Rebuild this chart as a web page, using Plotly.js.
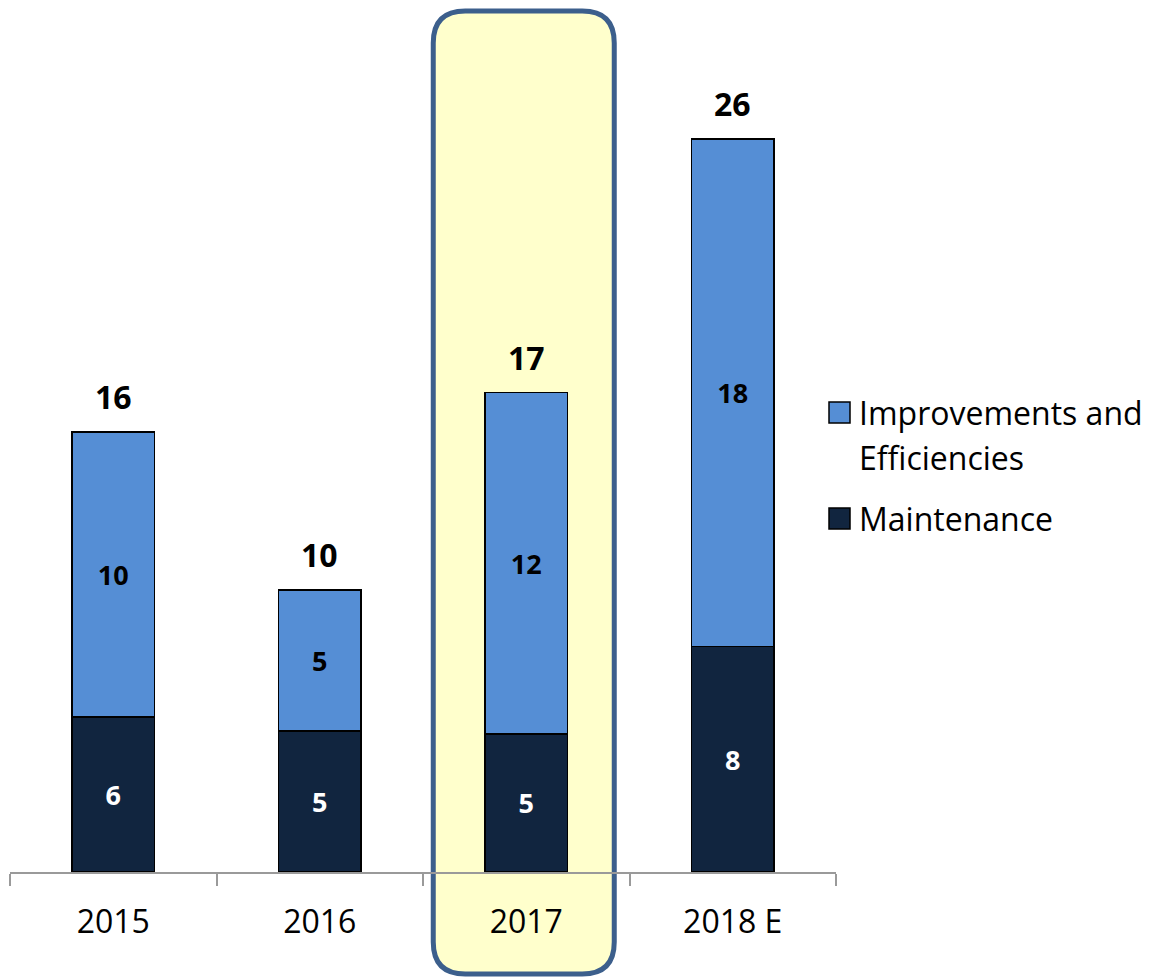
<!DOCTYPE html>
<html>
<head>
<meta charset="utf-8">
<script src="https://cdn.plot.ly/plotly-3.0.1.min.js"></script>
<style>html,body{margin:0;padding:0;background:#fff;}#chart{width:1149px;height:979px;}</style>
</head>
<body>
<div id="chart"></div>
<script>
const categories = ['2015', '2016', '2017', '2018 E'];
const maintenance = [5.5, 5.0, 4.9, 8.0];
const improvements = [10.1, 5.0, 12.1, 18.0];
const seriesNames = ['Improvements and Efficiencies', 'Maintenance'];
const highlightCategory = '2017';

const totals = categories.map((c, i) => maintenance[i] + improvements[i]);

const FONT = 'Open Sans, Noto Sans, sans-serif';
const BLUE = '#558ED5';
const DARK = '#11253F';

const traces = [
  {
    type: 'bar', name: seriesNames[1], x: categories, y: maintenance,
    marker: {color: DARK, line: {color: '#000', width: 1.5}},
    texttemplate: '<b>%{y:.0f}</b>', textposition: 'inside', insidetextanchor: 'middle',
    textangle: 0, constraintext: 'none',
    textfont: {family: FONT, size: 27, color: '#fff'},
    showlegend: false, hoverinfo: 'skip'
  },
  {
    type: 'bar', name: seriesNames[0], x: categories, y: improvements,
    marker: {color: BLUE, line: {color: '#000', width: 1.5}},
    texttemplate: '<b>%{y:.0f}</b>', textposition: 'inside', insidetextanchor: 'middle',
    textangle: 0, constraintext: 'none',
    textfont: {family: FONT, size: 27, color: '#000'},
    showlegend: false, hoverinfo: 'skip'
  }
];

// total labels above each stack (x given as category index)
const annotations = categories.map((c, i) => ({
  x: i, y: totals[i], xref: 'x', yref: 'y',
  text: '<b>' + Math.round(totals[i]) + '</b>',
  showarrow: false, yanchor: 'bottom', yshift: 12,
  font: {family: FONT, size: 32, color: '#000'}
}));

// custom legend (text)
const legendLines = [
  {text: 'Improvements and', y: 412},
  {text: 'Efficiencies', y: 457},
  {text: 'Maintenance', y: 518}
];
legendLines.forEach(l => annotations.push({
  xref: 'paper', yref: 'paper', x: 1, y: 0, xanchor: 'left', yanchor: 'middle',
  xshift: 21, yshift: 872 - l.y, text: l.text, showarrow: false,
  font: {family: FONT, size: 32, color: '#000'}
}));

function roundRect(x0, x1, yb, yt, r) {
  return `M ${x0 + r},${yt} L ${x1 - r},${yt} Q ${x1},${yt} ${x1},${yt - r} ` +
    `L ${x1},${yb + r} Q ${x1},${yb} ${x1 - r},${yb} L ${x0 + r},${yb} ` +
    `Q ${x0},${yb} ${x0},${yb + r} L ${x0},${yt - r} Q ${x0},${yt} ${x0 + r},${yt} Z`;
}

const hiIdx = categories.indexOf(highlightCategory);
const shapes = [
  {
    type: 'path', layer: 'below', xref: 'paper', yref: 'paper',
    xsizemode: 'pixel', ysizemode: 'pixel',
    xanchor: (hiIdx + 0.5) / categories.length, yanchor: 0,
    path: roundRect(-93, 88, -102, 861, 32),
    fillcolor: '#FFFFCC', line: {color: '#3C5F8C', width: 5}
  },
  {
    type: 'rect', xref: 'paper', yref: 'paper', xsizemode: 'pixel', ysizemode: 'pixel',
    xanchor: 1, yanchor: 0, x0: -7, x1: 14, y0: 872 - 423, y1: 872 - 402,
    fillcolor: BLUE, line: {color: '#000', width: 1.5}
  },
  {
    type: 'rect', xref: 'paper', yref: 'paper', xsizemode: 'pixel', ysizemode: 'pixel',
    xanchor: 1, yanchor: 0, x0: -7, x1: 14, y0: 872 - 529, y1: 872 - 508,
    fillcolor: DARK, line: {color: '#000', width: 1.5}
  }
];

const layout = {
  width: 1149, height: 979,
  margin: {l: 10, r: 313, t: 26, b: 107, pad: 0},
  paper_bgcolor: '#fff', plot_bgcolor: 'rgba(0,0,0,0)',
  barmode: 'stack', bargap: 0.6,
  showlegend: false,
  font: {family: FONT, color: '#000'},
  xaxis: {
    type: 'category', range: [-0.5, categories.length - 0.5], autorange: false,
    showline: true, linecolor: '#9a9a9a', linewidth: 2,
    ticks: 'outside', tickson: 'boundaries', ticklen: 12, tickwidth: 2, tickcolor: '#9a9a9a',
    tickfont: {family: FONT, size: 32, color: '#000'}, ticklabelstandoff: 21, tickangle: 0,
    showgrid: false, zeroline: false, fixedrange: true
  },
  yaxis: {range: [0, 30], autorange: false, visible: false, showgrid: false, zeroline: false, fixedrange: true},
  shapes: shapes,
  annotations: annotations
};

Plotly.newPlot('chart', traces, layout, {displayModeBar: false, staticPlot: true});
</script>
</body>
</html>
